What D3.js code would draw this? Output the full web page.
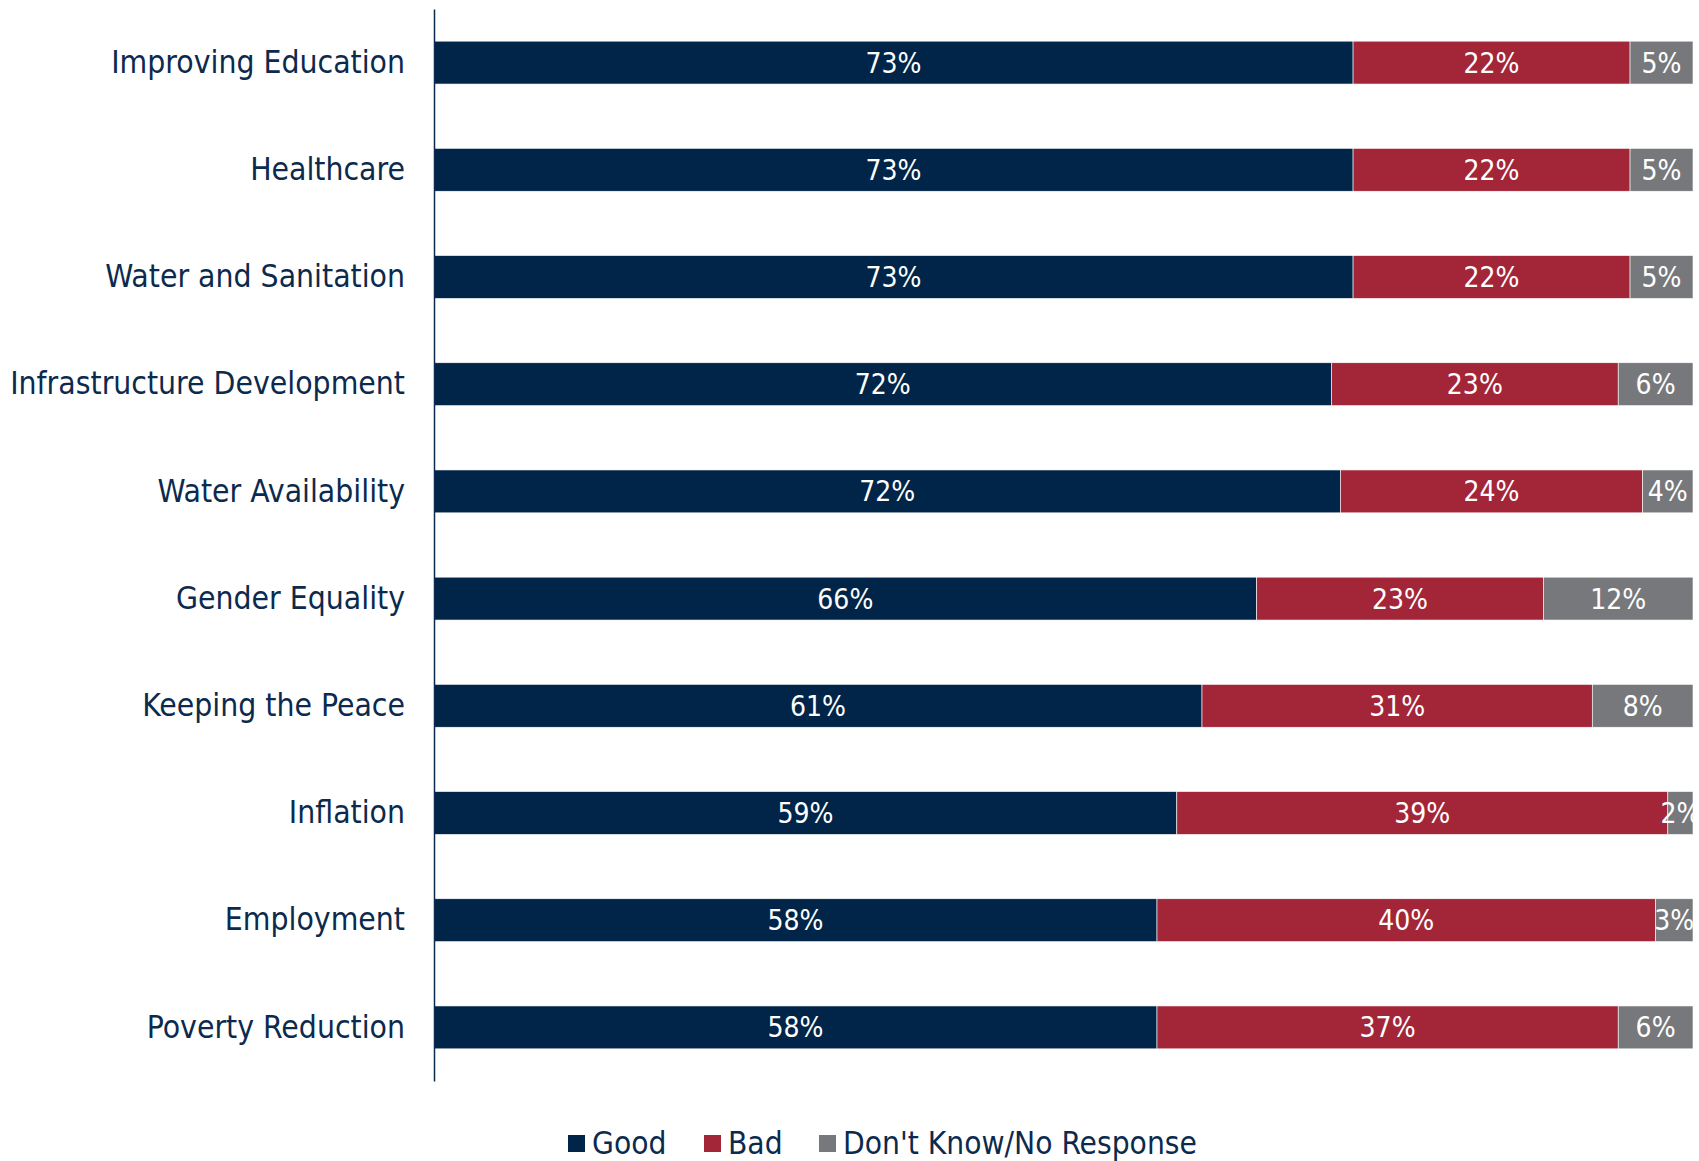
<!DOCTYPE html>
<html>
<head>
<meta charset="utf-8">
<script src="https://cdn.jsdelivr.net/npm/d3@7"></script>
<style>
  html, body { margin: 0; padding: 0; background: #fff; }
  svg { display: block; }
</style>
</head>
<body>
<svg id="chart" width="1699" height="1161"></svg>
<script>
const categories = ["Improving Education", "Healthcare", "Water and Sanitation", "Infrastructure Development", "Water Availability", "Gender Equality", "Keeping the Peace", "Inflation", "Employment", "Poverty Reduction"];
const good = [73, 73, 73, 72, 72, 66, 61, 59, 58, 58];
const bad = [22, 22, 22, 23, 24, 23, 31, 39, 40, 37];
const dontKnow = [5, 5, 5, 6, 4, 12, 8, 2, 3, 6];
const seriesNames = ["Good", "Bad", "Don't Know/No Response"];
const colors = ["#002548", "#a32638", "#77787b"];

(function () {
const svg = d3.select("#chart");
const fontFam = "'DejaVu Sans Condensed', 'DejaVu Sans', sans-serif";
const textColor = "#0c2a4d";

const mLeft = 434, mRight = 1693, mTop = 9, mBottom = 1081;

const data = categories.map((c, i) => {
  const tot = good[i] + bad[i] + dontKnow[i];
  return { cat: c, Good: good[i] / tot * 100, Bad: bad[i] / tot * 100, DK: dontKnow[i] / tot * 100,
           labels: [good[i], bad[i], dontKnow[i]] };
});

const y = d3.scaleBand().domain(categories).range([mTop, mBottom]).paddingInner(0.6).paddingOuter(0.3);
const x = d3.scaleLinear().domain([0, 100]).range([mLeft, mRight]);

const stacked = d3.stack().keys(["Good", "Bad", "DK"])(data);

const layers = svg.selectAll("g.layer").data(stacked).join("g")
  .attr("class", "layer")
  .attr("fill", (d, i) => colors[i]);

layers.selectAll("rect").data(d => d).join("rect")
  .attr("x", d => x(d[0]))
  .attr("y", d => y(d.data.cat))
  .attr("width", d => x(d[1]) - x(d[0]))
  .attr("height", y.bandwidth())
  .attr("stroke", "#fff")
  .attr("stroke-width", 0.6);

stacked.forEach((layer, li) => {
  svg.append("g").selectAll("text").data(layer).join("text")
    .attr("x", d => (x(d[0]) + x(d[1])) / 2)
    .attr("y", d => y(d.data.cat) + y.bandwidth() / 2)
    .attr("dy", "0.36em")
    .attr("text-anchor", "middle")
    .attr("fill", "#fff")
    .style("font-family", fontFam)
    .style("font-size", "28px")
    .text(d => d.data.labels[li] + "%");
});

const yAxis = d3.axisLeft(y).tickSize(0).tickPadding(29);
const ga = svg.append("g").attr("transform", `translate(${mLeft},0)`).call(yAxis);
ga.select(".domain").attr("stroke", "#0c2a4d").attr("stroke-width", 1.5);
ga.selectAll("text")
  .style("font-family", fontFam)
  .style("font-size", "31.6px")
  .attr("fill", textColor);

const legendItems = [
  { name: seriesNames[0], color: colors[0], x: 568 },
  { name: seriesNames[1], color: colors[1], x: 704 },
  { name: seriesNames[2], color: colors[2], x: 819 }
];
const lg = svg.append("g");
legendItems.forEach(it => {
  lg.append("rect").attr("x", it.x).attr("y", 1135).attr("width", 17).attr("height", 17).attr("fill", it.color);
  lg.append("text").attr("x", it.x + 24).attr("y", 1143).attr("dy", "0.36em")
    .style("font-family", fontFam).style("font-size", "31.4px").attr("fill", textColor)
    .text(it.name);
});
})();
</script>
</body>
</html>
